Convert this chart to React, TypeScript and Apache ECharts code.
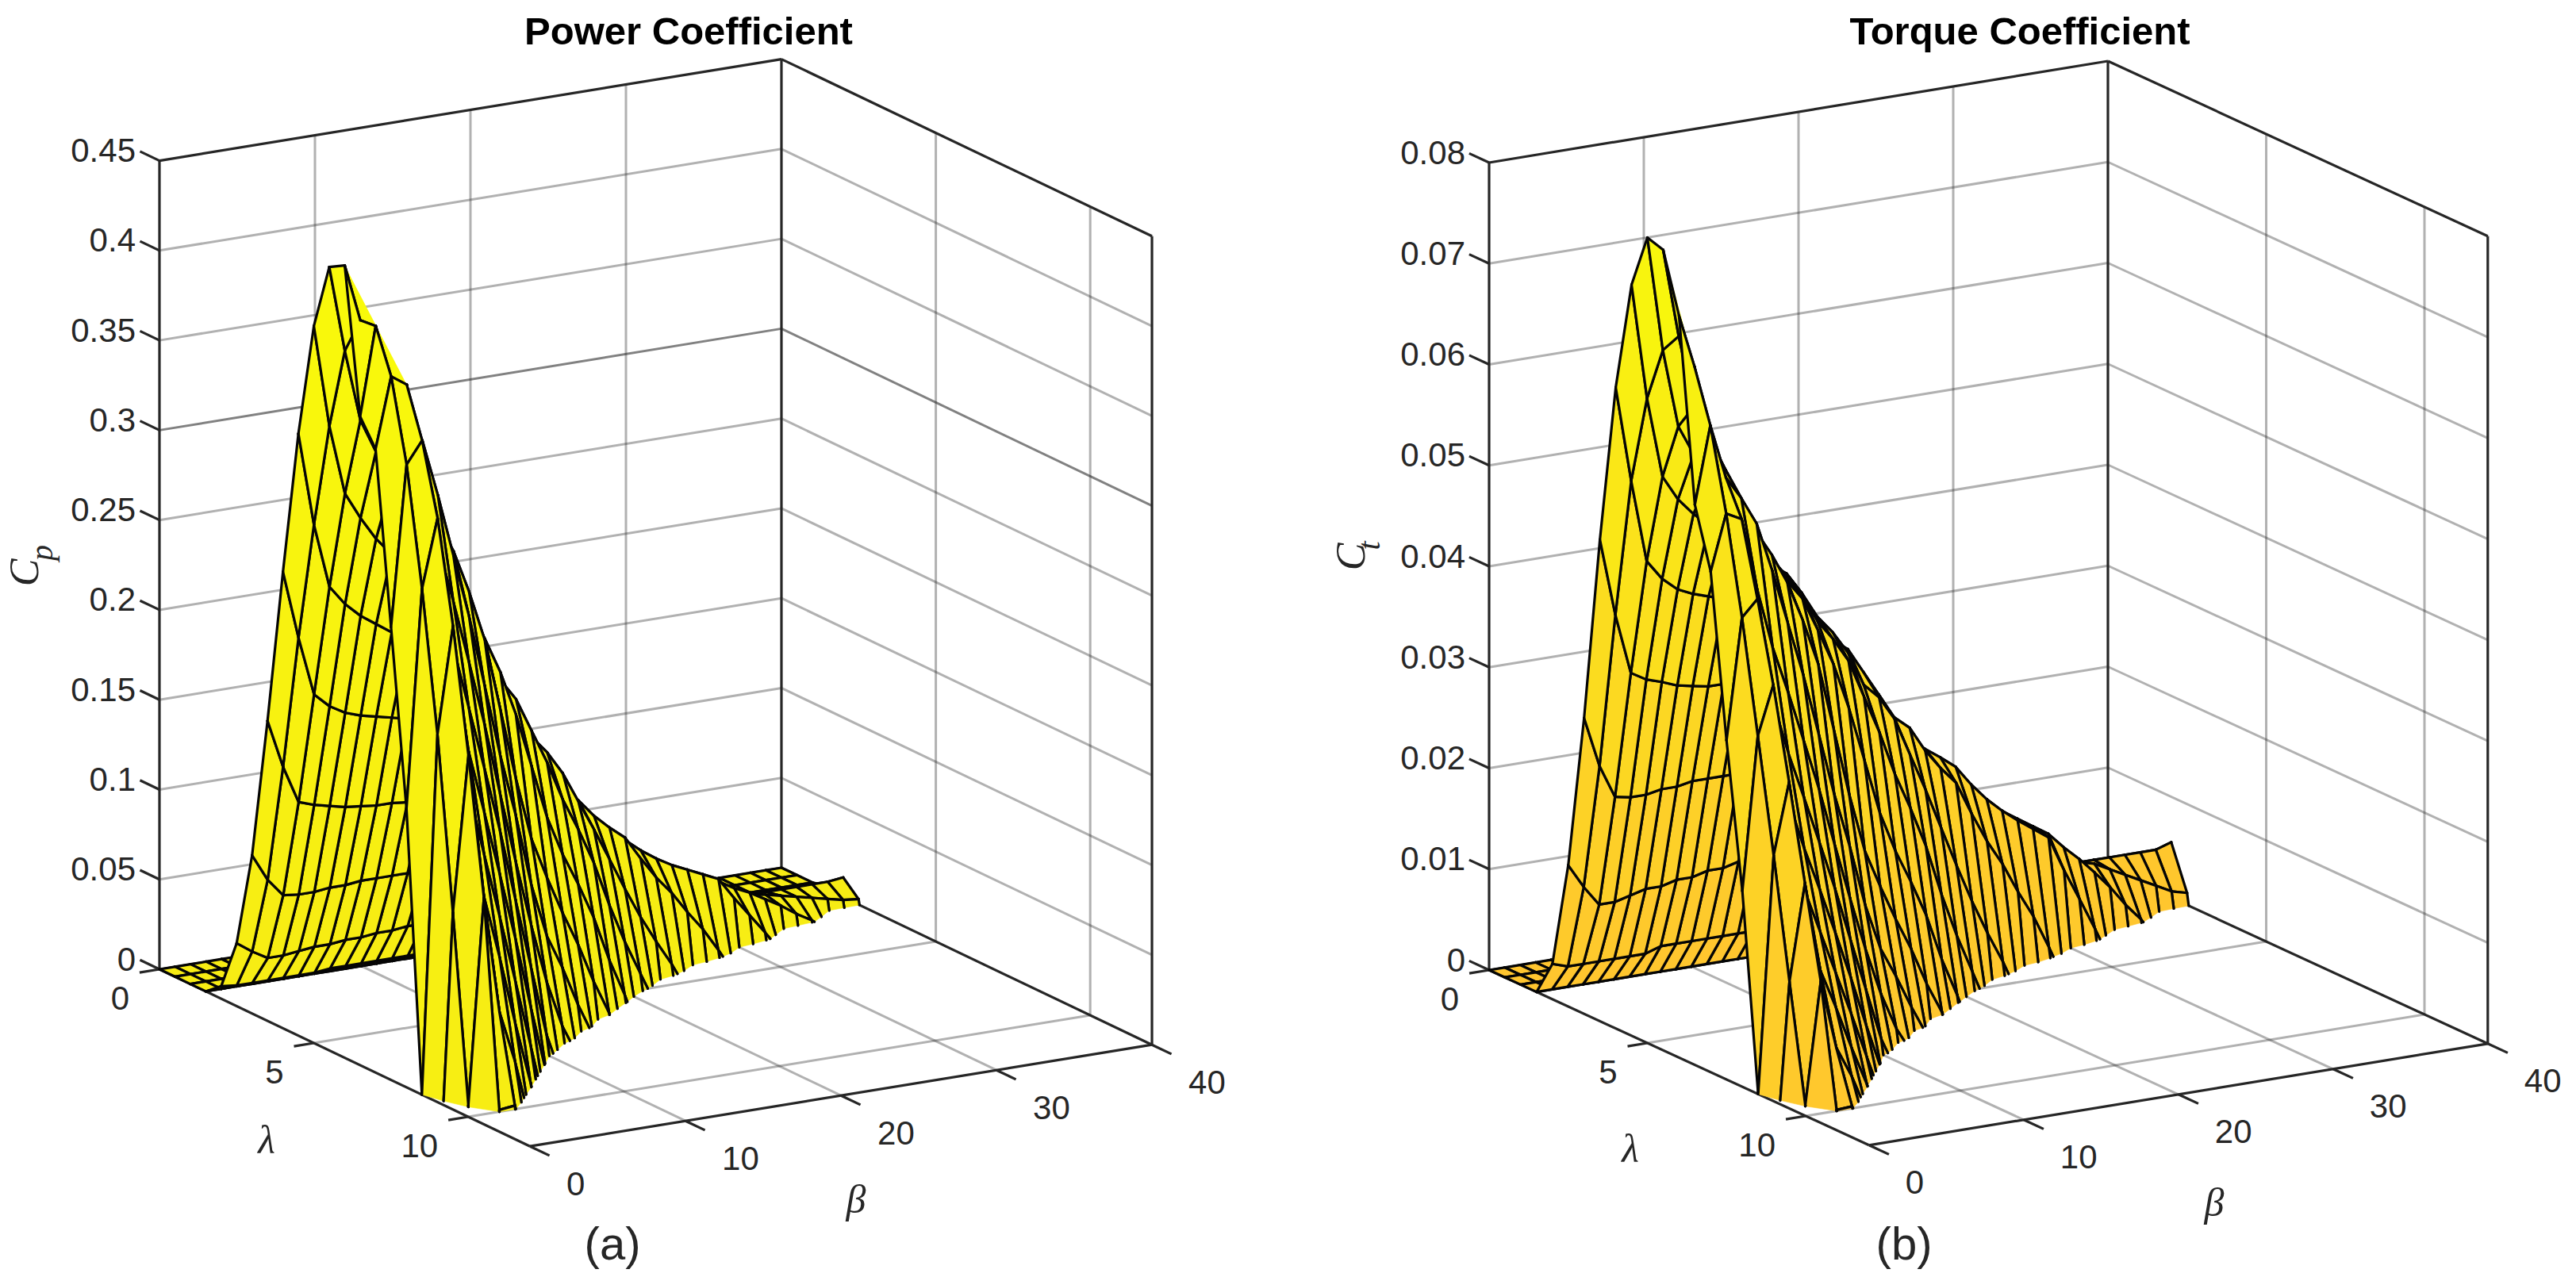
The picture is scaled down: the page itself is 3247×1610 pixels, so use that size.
import React, { useEffect, useRef } from "react";
import * as echarts from "echarts";

const lambdaGrid = [0, 0.5, 1, 1.5, 2, 2.5, 3, 3.5, 4, 4.5, 5, 5.5, 6, 6.5, 7, 7.5, 8, 8.5, 9, 9.5, 10, 10.5];
const betaGrid = [0,1,2,3,4,5,6,7,8,9,10,11,12,13,14,15,16,17,18,19,20,21,22,23,24,25,26,27,28,29,30,31,32,33,34,35,36,37,38,39,40];

// Power coefficient, one list per lambda, index = beta (lists stop once the surface is below the floor)
const cpL00 = [0];
const cpL05 = [0];
const cpL10 = [0];
const cpL15 = [0,0,0,0,0,0,0,0,0,0,0,0,0,0,0,0,0,0,0,0,0,0,0,0,.001,.001,.001,.001,.001,.001,.001,.001,.001,.001,.002,.002,.002,.002,.002,.002,.002];
const cpL20 = [.007,.006,.006,.006,.006,.006,.006,.007,.007,.007,.007,.007,.007,.007,.007,.008,.008,.008,.008,.008,.008,.008,.009,.009,.009,.009,.009,.009,.009,.009,.010,.010,.010,.010,.010,.010,.010,.010,.010,.010,.011];
const cpL25 = [.035,.029,.024,.024,.025,.026,.026,.027,.027,.028,.028,.029,.029,.029,.029,.028,.028,.028,.027,.027,.026,.026,.025,.025,.024,.023,.022,.022,.021,.020,.019,.018,.016,.015,.014,.012,.010,.008,.006,.004,.003];
const cpL30 = [.088,.073,.063,.062,.062,.063,.063,.064,.064,.064,.064,.063,.062,.062,.061,.060,.059,.058,.056,.055,.053,.051,.050,.048,.046,.044,.042,.040,.037,.034,.031,.026,.022,.017,.012,.006,.001,-.005];
const cpL35 = [.167,.140,.119,.116,.114,.112,.111,.110,.110,.109,.108,.107,.105,.103,.100,.098,.095,.092,.088,.084,.080,.076,.072,.068,.061,.055,.050,.046,.042,.038,.026,.015,.004,-.008];
const cpL40 = [.254,.216,.183,.175,.170,.167,.165,.163,.161,.160,.158,.155,.150,.145,.140,.135,.125,.115,.105,.100,.090,.082,.075,.062,.050,.040,.028,.017,.004,-.010];
const cpL45 = [.335,.283,.247,.236,.228,.222,.216,.210,.205,.200,.195,.185,.175,.165,.155,.145,.135,.122,.105,.088,.070,.052,.035,.020,.006,-.010];
const cpL50 = [.399,.342,.303,.288,.275,.265,.258,.245,.230,.220,.210,.195,.185,.173,.154,.135,.113,.095,.075,.050,.028,.009,-.010];
const cpL55 = [.436,.388,.348,.329,.310,.286,.270,.258,.245,.234,.215,.195,.170,.140,.110,.088,.070,.050,.025,.004,-.020];
const cpL60 = [.441,.409,.365,.345,.325,.305,.290,.272,.248,.220,.180,.140,.105,.082,.061,.042,.020,.001,-.022];
const cpL65 = [.361,.410,.375,.360,.342,.310,.275,.240,.200,.160,.125,.085,.055,.036,.014,-.005];
const cpL70 = [.347,.386,.380,.330,.288,.255,.220,.184,.144,.105,.068,.035,.009,-.009];
const cpL75 = [.252,.341,.353,.275,.235,.200,.165,.129,.089,.050,.011,-.015];
const cpL80 = [.155,.276,.314,.220,.181,.146,.110,.073,.033,-.005];
const cpL85 = [0,.199,.258,.165,.128,.092,.055,.017,-.021];
const cpL90 = [-.070,.104,.190,.110,.075,.037,.002,-.037];
const cpL95 = [-.200,.001,.115,.050,.021,-.015,-.050];
const cpL100 = [-.250,-.200,.001,.002,-.030,-.050];
const cpL105 = [-.200,-.200,-.100,-.100,-.100];
const cpColumns = [cpL00,cpL05,cpL10,cpL15,cpL20,cpL25,cpL30,cpL35,cpL40,cpL45,cpL50,cpL55,cpL60,cpL65,cpL70,cpL75,cpL80,cpL85,cpL90,cpL95,cpL100,cpL105];

// Torque coefficient, same layout
const ctL00 = [0];
const ctL05 = [0];
const ctL10 = [0];
const ctL15 = [0,0,0,0,0,0,0,0,0,0,0,0,0,0,0,0,0,0,0,0,0,0,0,0,.0007,.0007,.0007,.0007,.0007,.0007,.0007,.0007,.0007,.0007,.0013,.0013,.0013,.0013,.0013,.0013,.0013];
const ctL20 = [.0035,.003,.003,.003,.003,.003,.003,.0035,.0035,.0035,.0035,.0035,.0035,.0035,.0035,.004,.004,.004,.004,.004,.004,.004,.0045,.0045,.0045,.0045,.0045,.0045,.0045,.0045,.005,.005,.005,.005,.005,.005,.005,.005,.005,.005,.0055];
const ctL25 = [.014,.0116,.0096,.0096,.01,.0104,.0104,.0108,.0108,.0112,.0112,.0116,.0116,.0116,.0116,.0112,.0112,.0112,.0108,.0108,.0104,.0104,.01,.01,.0096,.0092,.0088,.0088,.0084,.008,.0076,.0072,.0064,.006,.0056,.0048,.004,.0032,.0024,.0016,.0012];
const ctL30 = [.0293,.0243,.021,.0207,.0207,.021,.021,.0213,.0213,.0213,.0213,.021,.0207,.0207,.0203,.02,.0197,.0193,.0187,.0183,.0177,.017,.0167,.016,.0153,.0147,.014,.0133,.0123,.0113,.0103,.0087,.0073,.0057,.004,.002,.0003,-.0017];
const ctL35 = [.0477,.04,.034,.0331,.0326,.032,.0317,.0314,.0314,.0311,.0309,.0306,.03,.0294,.0286,.028,.0271,.0263,.0251,.024,.0229,.0217,.0206,.0194,.0174,.0157,.0143,.0131,.012,.0109,.0074,.0043,.0011,-.0023];
const ctL40 = [.0635,.054,.0458,.0438,.0425,.0418,.0413,.0408,.0403,.04,.0395,.0388,.0375,.0363,.035,.0338,.0313,.0288,.0263,.025,.0225,.0205,.0188,.0155,.0125,.01,.007,.0043,.001,-.0025];
const ctL45 = [.0744,.0629,.0549,.0524,.0507,.0493,.048,.0467,.0456,.0444,.0433,.0411,.0385,.0367,.0344,.031,.0295,.0271,.0233,.0196,.0156,.0116,.0078,.0044,.0013,-.0022];
const ctL50 = [.0798,.0684,.0606,.0576,.055,.053,.0516,.049,.046,.044,.042,.039,.037,.0346,.0308,.027,.0226,.019,.015,.01,.0056,.0018,-.002];
const ctL55 = [.0793,.0705,.0633,.0598,.0564,.052,.0491,.0469,.0445,.0425,.0391,.0355,.0309,.0255,.02,.016,.0127,.0091,.0045,.0007,-.0036];
const ctL60 = [.0735,.0682,.0608,.0575,.0542,.0508,.0483,.0453,.0413,.0367,.03,.0233,.0175,.0137,.0102,.007,.0033,.0002,-.0037];
const ctL65 = [.0555,.0631,.0577,.0554,.0526,.0477,.0423,.0369,.0308,.0246,.0192,.0131,.0085,.0055,.0022,-.0008];
const ctL70 = [.0496,.0551,.0543,.0471,.0411,.0364,.0314,.0263,.0206,.015,.0097,.005,.0013,-.0013];
const ctL75 = [.0336,.0455,.0471,.0367,.0313,.0267,.022,.0172,.0119,.0067,.0015,-.002];
const ctL80 = [.0194,.0345,.0393,.0275,.0226,.0183,.0138,.0091,.0041,-.0006];
const ctL85 = [0,.0234,.0304,.0194,.0151,.0108,.0065,.002,-.0025];
const ctL90 = [-.0078,.0116,.0211,.0122,.0083,.0041,.0002,-.0041];
const ctL95 = [-.0211,.0001,.0121,.0053,.0022,-.0016,-.0053];
const ctL100 = [-.025,-.02,.0001,.0002,-.003,-.005];
const ctL105 = [-.02,-.02,-.01,-.01,-.01];
const ctColumns = [ctL00,ctL05,ctL10,ctL15,ctL20,ctL25,ctL30,ctL35,ctL40,ctL45,ctL50,ctL55,ctL60,ctL65,ctL70,ctL75,ctL80,ctL85,ctL90,ctL95,ctL100,ctL105];

const lambdaTicks = [0, 5, 10];
const betaTicks = [0, 10, 20, 30, 40];
const cpTicks = [0, 0.05, 0.1, 0.15, 0.2, 0.25, 0.3, 0.35, 0.4, 0.45];
const cpTickLabels = ["0", "0.05", "0.1", "0.15", "0.2", "0.25", "0.3", "0.35", "0.4", "0.45"];
const ctTicks = [0, 0.01, 0.02, 0.03, 0.04, 0.05, 0.06, 0.07, 0.08];
const ctTickLabels = ["0", "0.01", "0.02", "0.03", "0.04", "0.05", "0.06", "0.07", "0.08"];

const LAMBDA_MAX = 12;
const BETA_MAX = 40;
const INK = "#262626";
const SANS = '"Liberation Sans", Arial, sans-serif';
const SERIF = '"Liberation Serif", "Times New Roman", serif';

const panels = [
  {
    columns: cpColumns, below: -0.05, ticks: cpTicks, tickLabels: cpTickLabels, zMax: 0.45,
    x0: 201, y0: 1222, lx: 38.92, ly: 18.6, bx: 19.6, by: -3.2, zs: 2265.4,
    low: [247, 236, 20], high: [249, 250, 10], darkTick: 0.3,
    notch: [[[6, 0], [6, 1], [6.5, 1], [7, 1], [7, 2]]],
    title: "Power Coefficient", titleX: 868, caption: "(a)", captionX: 772,
    symbol: [{ t: "C", x: 30, y: 722, s: 52 }, { t: "p", x: 52, y: 697, s: 40 }],
    lambdaPos: [336, 1437], betaPos: [1079, 1512],
  },
  {
    columns: ctColumns, below: -0.01, ticks: ctTicks, tickLabels: ctTickLabels, zMax: 0.08,
    x0: 1877, y0: 1223, lx: 39.9, ly: 18.4, bx: 19.5, by: -3.2, zs: 12725,
    low: [255, 197, 47], high: [247, 250, 10], darkTick: -1,
    notch: [[[5.5, 0], [5.5, 1], [6, 1], [6.5, 1]]],
    title: "Torque Coefficient", titleX: 2546, caption: "(b)", captionX: 2400,
    symbol: [{ t: "C", x: 1702, y: 702, s: 52 }, { t: "t", x: 1725, y: 688, s: 40 }],
    lambdaPos: [2055, 1448], betaPos: [2791, 1516],
  },
];

type P3 = [number, number, number];

function makeOption() {
  const series: any[] = [];
  panels.forEach((p: any) => {
    const project = (v: P3): [number, number] => [
      p.x0 + p.lx * v[0] + p.bx * v[1],
      p.y0 + p.ly * v[0] + p.by * v[1] - p.zs * v[2],
    ];
    const value = (i: number, j: number) => {
      const c = p.columns[i];
      if (j < c.length) return c[j];
      return c.length === 1 ? c[0] : p.below;
    };
    const node = (i: number, j: number): P3 => [lambdaGrid[i], betaGrid[j], value(i, j)];
    const colorFor = (z: number) => {
      const t = Math.max(0, Math.min(1, z / p.zMax));
      const c = p.low.map((a: number, k: number) => Math.round(a + (p.high[k] - a) * t));
      return `rgb(${c[0]},${c[1]},${c[2]})`;
    };
    const cross = (a: P3, b: P3): P3 => {
      const t = a[2] / (a[2] - b[2]);
      return [a[0] + (b[0] - a[0]) * t, a[1] + (b[1] - a[1]) * t, 0];
    };
    const clipPoly = (pts: P3[]) => {
      const out: P3[] = [];
      pts.forEach((a, k) => {
        const b = pts[(k + 1) % pts.length];
        if (a[2] >= 0) out.push(a);
        if ((a[2] >= 0) !== (b[2] >= 0)) out.push(cross(a, b));
      });
      return out;
    };
    const clipEdge = (a: P3, b: P3): [P3, P3] | null => {
      if (a[2] < 0 && b[2] < 0) return null;
      if (a[2] >= 0 && b[2] >= 0) return [a, b];
      return a[2] >= 0 ? [a, cross(a, b)] : [cross(a, b), b];
    };

    // frame: walls, floor grid, box edges, ticks
    const GRID = "rgba(38,38,38,0.36)";
    const GRID_DARK = "rgba(38,38,38,0.58)";
    const EDGE = INK;
    const segs: { a: P3; b: P3; c: string; w: number }[] = [];
    const top = p.zMax;
    const add = (a: P3, b: P3, c: string, w: number) => segs.push({ a, b, c, w });
    p.ticks.forEach((z: number) => {
      if (z === 0 || z === top) return;
      const col = z === p.darkTick ? GRID_DARK : GRID;
      add([0, 0, z], [0, BETA_MAX, z], col, 3);
      add([0, BETA_MAX, z], [LAMBDA_MAX, BETA_MAX, z], col, 3);
    });
    betaTicks.forEach((b) => {
      if (b === 0 || b === BETA_MAX) return;
      add([0, b, 0], [0, b, top], GRID, 3);
      add([0, b, 0], [LAMBDA_MAX, b, 0], GRID, 3);
    });
    lambdaTicks.forEach((l) => {
      if (l === 0) return;
      add([l, BETA_MAX, 0], [l, BETA_MAX, top], GRID, 3);
      add([l, 0, 0], [l, BETA_MAX, 0], GRID, 3);
    });
    add([0, 0, 0], [LAMBDA_MAX, 0, 0], EDGE, 3.2);
    add([LAMBDA_MAX, 0, 0], [LAMBDA_MAX, BETA_MAX, 0], EDGE, 3.2);
    add([0, 0, 0], [0, BETA_MAX, 0], EDGE, 2.4);
    add([0, BETA_MAX, 0], [LAMBDA_MAX, BETA_MAX, 0], EDGE, 3.2);
    add([0, 0, 0], [0, 0, top], EDGE, 3.2);
    add([0, 0, top], [0, BETA_MAX, top], EDGE, 3.2);
    add([0, BETA_MAX, top], [LAMBDA_MAX, BETA_MAX, top], EDGE, 3.2);
    add([0, BETA_MAX, 0], [0, BETA_MAX, top], EDGE, 3.2);
    add([LAMBDA_MAX, BETA_MAX, 0], [LAMBDA_MAX, BETA_MAX, top], EDGE, 3.2);
    p.ticks.forEach((z: number) => add([0, 0, z], [-0.63, 0, z], EDGE, 3.2));
    lambdaTicks.forEach((l) => add([l, 0, 0], [l, -1.28, 0], EDGE, 3.2));
    betaTicks.forEach((b) => add([LAMBDA_MAX, b, 0], [LAMBDA_MAX + 0.63, b, 0], EDGE, 3.2));

    series.push({
      type: "custom", coordinateSystem: "cartesian2d", silent: true, z: 1, clip: false, progressive: 0,
      data: segs.map((_, k) => [k, 0]),
      renderItem: (_: any, api: any) => {
        const s = segs[api.value(0)];
        const a = api.coord(project(s.a));
        const b = api.coord(project(s.b));
        return { type: "line", shape: { x1: a[0], y1: a[1], x2: b[0], y2: b[1] }, style: { stroke: s.c, lineWidth: s.w, fill: null } };
      },
    });

    // fill-only facets along the ridge
    series.push({
      type: "custom", coordinateSystem: "cartesian2d", silent: true, z: 2, clip: false, progressive: 0,
      data: p.notch.map((_: any, k: number) => [k, 0]),
      renderItem: (_: any, api: any) => {
        const tri = p.notch[api.value(0)];
        const pts = tri.map((n: number[]) => api.coord(project(node(lambdaGrid.indexOf(n[0]), n[1]))));
        return { type: "polygon", shape: { points: pts }, style: { fill: colorFor(p.zMax) } };
      },
    });

    // surface, far cells first
    const cells: number[][] = [];
    for (let j = betaGrid.length - 2; j >= 0; j--) {
      for (let i = 0; i < lambdaGrid.length - 1; i++) {
        const q = [node(i, j), node(i + 1, j), node(i + 1, j + 1), node(i, j + 1)];
        if (q.some((n) => n[2] >= 0)) cells.push([i, j]);
      }
    }
    series.push({
      type: "custom", coordinateSystem: "cartesian2d", silent: true, z: 3, clip: false, progressive: 0,
      data: cells,
      renderItem: (_: any, api: any) => {
        const i = api.value(0);
        const j = api.value(1);
        const q: P3[] = [node(i, j), node(i + 1, j), node(i + 1, j + 1), node(i, j + 1)];
        const poly = clipPoly(q);
        if (poly.length < 3) return null;
        const pos = q.filter((n) => n[2] >= 0);
        const mean = pos.reduce((s, n) => s + n[2], 0) / pos.length;
        const children: any[] = [
          {
            type: "polygon",
            shape: { points: poly.map((n) => api.coord(project(n))) },
            style: { fill: colorFor(mean), stroke: colorFor(mean), lineWidth: 0.6 },
          },
        ];
        q.forEach((a, k) => {
          const e = clipEdge(a, q[(k + 1) % 4]);
          if (!e) return;
          const s = api.coord(project(e[0]));
          const t = api.coord(project(e[1]));
          children.push({
            type: "line",
            shape: { x1: s[0], y1: s[1], x2: t[0], y2: t[1] },
            style: { stroke: "#050505", lineWidth: 3.2, lineCap: "round", fill: null },
          });
        });
        return { type: "group", children };
      },
    });

    // texts
    const texts: any[] = [];
    const put = (t: string, x: number, y: number, font: string, align = "center", rot = 0, fill = INK) =>
      texts.push({ t, x, y, font, align, rot, fill });
    const tickFont = `42px ${SANS}`;
    p.ticks.forEach((z: number, k: number) => {
      const at = project([0, 0, z]);
      put(p.tickLabels[k], at[0] - 30, at[1] - 13, tickFont, "right");
    });
    lambdaTicks.forEach((l) => {
      const at = project([l, 0, 0]);
      put(String(l), at[0] - 38, at[1] + 36, tickFont, "right");
    });
    betaTicks.forEach((b) => {
      const at = project([LAMBDA_MAX, b, 0]);
      put(String(b), at[0] + 46, at[1] + 47, tickFont, "left");
    });
    put(p.title, p.titleX, 39, `bold 49px ${SANS}`, "center", 0, "#000000");
    put(p.caption, p.captionX, 1567, `58px ${SANS}`);
    p.symbol.forEach((s: any) => put(s.t, s.x, s.y, `italic ${s.s}px ${SERIF}`, "center", Math.PI / 2));
    put("\u03bb", p.lambdaPos[0], p.lambdaPos[1], `italic 50px ${SERIF}`);
    put("\u03b2", p.betaPos[0], p.betaPos[1], `italic 50px ${SERIF}`);

    series.push({
      type: "custom", coordinateSystem: "cartesian2d", silent: true, z: 4, clip: false, progressive: 0,
      data: texts.map((_, k) => [k, 0]),
      renderItem: (_: any, api: any) => {
        const s = texts[api.value(0)];
        const c = api.coord([s.x, s.y]);
        return {
          type: "text", x: c[0], y: c[1], rotation: s.rot,
          style: { text: s.t, font: s.font, fill: s.fill, align: s.align, verticalAlign: "middle" },
        };
      },
    });
  });

  return {
    animation: false,
    backgroundColor: "#ffffff",
    grid: { left: 0, right: 0, top: 0, bottom: 0 },
    xAxis: { type: "value", min: 0, max: 3247, show: false },
    yAxis: { type: "value", min: 0, max: 1610, inverse: true, show: false },
    series,
  };
}

export default function App() {
  const ref = useRef<HTMLDivElement>(null);
  useEffect(() => {
    const chart = echarts.init(ref.current!, undefined, { renderer: "svg" });
    chart.setOption(makeOption() as any);
    return () => chart.dispose();
  }, []);
  return <div ref={ref} style={{ position: "fixed", left: 0, top: 0, width: 3247, height: 1610 }} />;
}
